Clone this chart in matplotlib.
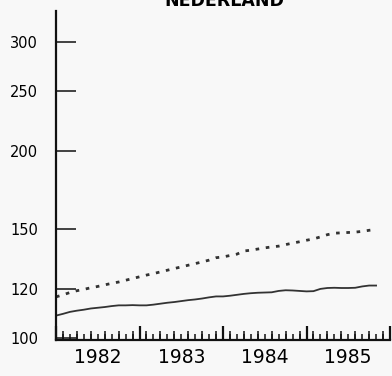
import matplotlib
matplotlib.use("Agg")
import matplotlib.pyplot as plt
import numpy as np

title = "NEDERLAND"
year_labels = ["1982", "1983", "1984", "1985"]
year_ticks = [1982, 1983, 1984, 1985, 1986]
y_ticks = [100, 120, 150, 200, 250, 300]

# monthly values, Jan 1982 .. Nov 1985
months = [1982 + m / 12 for m in range(47)]
solid = [108.8, 109.5, 110.3, 110.8, 111.2, 111.7, 112.0, 112.3, 112.7, 113.0,
         113.0, 113.1, 113.0, 113.0, 113.3, 113.7, 114.1, 114.4, 114.8, 115.2,
         115.5, 115.9, 116.4, 116.8, 116.8, 117.1, 117.5, 117.9, 118.2, 118.4,
         118.5, 118.6, 119.2, 119.5, 119.4, 119.2, 119.0, 119.1, 120.1, 120.5,
         120.6, 120.5, 120.5, 120.6, 121.2, 121.6, 121.6]
dotted = [116.6, 117.5, 118.5, 119.3, 119.9, 120.6, 121.2, 121.9, 122.6, 123.2,
          124.0, 124.8, 125.6, 126.4, 127.1, 127.9, 128.7, 129.5, 130.3, 131.1,
          131.9, 132.7, 133.6, 134.8, 135.2, 135.9, 136.6, 138.2, 138.6, 139.2,
          139.8, 140.3, 140.7, 141.5, 142.3, 143.0, 143.8, 144.5, 145.6, 146.8,
          147.6, 147.8, 148.0, 148.2, 148.6, 149.2, 149.7]

fig = plt.figure(figsize=(3.92, 3.76), dpi=100, facecolor="#f8f8f8")
ax = fig.add_axes([56/392, 1 - 340/376, (390-56)/392, (340-11)/376])
ax.set_facecolor("#f8f8f8")

ax.plot(months, solid, color="#333333", lw=1.3)
ax.plot(months, dotted, color="#333333", lw=2.0, linestyle=(0, (1.3, 2.4)))

ax.set_yscale("log")
ax.set_ylim(99.4, 336)
ax.set_xlim(1982, 1986)

for s in ["top", "right"]:
    ax.spines[s].set_visible(False)
for s in ["left", "bottom"]:
    ax.spines[s].set_linewidth(1.6)
    ax.spines[s].set_color("#111111")

ax.yaxis.set_minor_locator(matplotlib.ticker.NullLocator())
ax.set_yticks(y_ticks)
ax.set_yticklabels([str(v) for v in y_ticks])
ax.tick_params(axis="y", which="major", direction="in", length=14.5, width=1.1,
               color="#111111", labelsize=10.5, pad=13)

# x: year ticks (tall), monthly ticks (short)
ax.set_xticks(year_ticks)
ax.set_xticklabels([])
ax.set_xticks([1982 + m / 12 for m in range(48)], minor=True)
ax.tick_params(axis="x", which="major", direction="in", length=10, width=1.6, color="#111111")
ax.tick_params(axis="x", which="minor", direction="in", length=4, width=1.1, color="#111111")

sec = ax.secondary_xaxis("bottom")
sec.spines["bottom"].set_visible(False)
sec.set_xticks([1982 + m / 12 for m in range(1, 48, 2)])
sec.set_xticklabels([])
sec.tick_params(axis="x", direction="in", length=6.5, width=1.1, color="#111111")

lab = ax.secondary_xaxis("bottom")
lab.spines["bottom"].set_visible(False)
lab.set_xticks([y + 0.5 for y in year_ticks[:-1]])
lab.set_xticklabels(year_labels)
lab.tick_params(axis="x", length=0, labelsize=13.5, pad=6)

fig.text(224/392, 1 - 6/376, title, ha="center", va="baseline",
         fontsize=12.5, fontweight="bold")

fig.savefig("out.png", dpi=100, facecolor=fig.get_facecolor())
